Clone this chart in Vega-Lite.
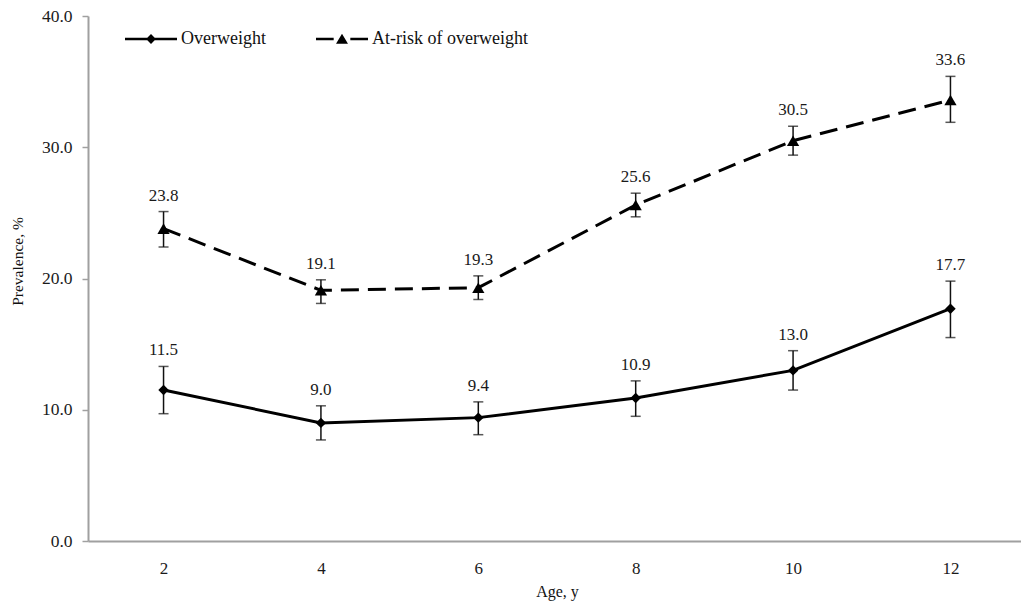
{
  "$schema": "https://vega.github.io/schema/vega-lite/v6.json",
  "width": 938,
  "height": 525,
  "autosize": {"type": "none"},
  "padding": {"left": 88, "top": 16, "right": 0, "bottom": 62},
  "background": "white",
  "config": {"view": {"stroke": null}, "font": "Liberation Serif"},
  "data": {
    "values": [
      {"age": 2, "series": "Overweight", "value": 11.5, "lo": 9.7, "hi": 13.3},
      {"age": 4, "series": "Overweight", "value": 9.0, "lo": 7.7, "hi": 10.3},
      {"age": 6, "series": "Overweight", "value": 9.4, "lo": 8.1, "hi": 10.6},
      {"age": 8, "series": "Overweight", "value": 10.9, "lo": 9.5, "hi": 12.2},
      {"age": 10, "series": "Overweight", "value": 13.0, "lo": 11.5, "hi": 14.5},
      {"age": 12, "series": "Overweight", "value": 17.7, "lo": 15.5, "hi": 19.8},
      {"age": 2, "series": "At-risk of overweight", "value": 23.8, "lo": 22.4, "hi": 25.1},
      {"age": 4, "series": "At-risk of overweight", "value": 19.1, "lo": 18.1, "hi": 19.9},
      {"age": 6, "series": "At-risk of overweight", "value": 19.3, "lo": 18.4, "hi": 20.2},
      {"age": 8, "series": "At-risk of overweight", "value": 25.6, "lo": 24.7, "hi": 26.5},
      {"age": 10, "series": "At-risk of overweight", "value": 30.5, "lo": 29.4, "hi": 31.6},
      {"age": 12, "series": "At-risk of overweight", "value": 33.6, "lo": 31.9, "hi": 35.4}
    ]
  },
  "encoding": {
    "x": {
      "field": "age",
      "type": "ordinal",
      "scale": {"type": "point", "padding": 0.48},
      "axis": {
        "title": "Age, y",
        "titleFont": "Liberation Serif",
        "titleFontSize": 16,
        "titleFontWeight": "normal",
        "titleColor": "#111",
        "titlePadding": 7,
        "labelAngle": 0,
        "labelFont": "Liberation Serif",
        "labelFontSize": 17,
        "labelColor": "#1a1a1a",
        "labelPadding": 19,
        "ticks": false,
        "domainColor": "#a0a0a0",
        "domainWidth": 2,
        "grid": false
      }
    }
  },
  "layer": [
    {
      "transform": [{"filter": "datum.series === 'Overweight'"}],
      "mark": {"type": "line", "color": "black", "strokeWidth": 3},
      "encoding": {
        "y": {
          "field": "value",
          "type": "quantitative",
          "scale": {"domain": [0, 40]},
          "axis": {
            "title": "Prevalence, %",
            "titleFont": "Liberation Serif",
            "titleFontSize": 15.5,
            "titleFontWeight": "normal",
            "titleColor": "#111",
            "titlePadding": 16,
            "titleY": 245,
            "values": [0, 10, 20, 30, 40],
            "format": ".1f",
            "labelFont": "Liberation Serif",
            "labelFontSize": 17.5,
            "labelColor": "#1a1a1a",
            "labelPadding": 10,
            "tickSize": 6,
            "tickWidth": 1.5,
            "tickColor": "#a0a0a0",
            "domainColor": "#a0a0a0",
            "domainWidth": 2,
            "grid": false
          }
        }
      }
    },
    {
      "transform": [{"filter": "datum.series !== 'Overweight'"}],
      "mark": {"type": "line", "color": "black", "strokeWidth": 3, "strokeDash": [18, 9]},
      "encoding": {
        "y": {"field": "value", "type": "quantitative"}
      }
    },
    {
      "mark": {"type": "rule", "color": "#111", "strokeWidth": 1.5},
      "encoding": {
        "y": {"field": "lo", "type": "quantitative"},
        "y2": {"field": "hi"}
      }
    },
    {
      "mark": {"type": "tick", "color": "#111", "size": 10, "thickness": 1.5, "orient": "horizontal"},
      "encoding": {"y": {"field": "lo", "type": "quantitative"}}
    },
    {
      "mark": {"type": "tick", "color": "#111", "size": 10, "thickness": 1.5, "orient": "horizontal"},
      "encoding": {"y": {"field": "hi", "type": "quantitative"}}
    },
    {
      "transform": [{"filter": "datum.series === 'Overweight'"}],
      "mark": {"type": "point", "filled": true, "color": "black", "size": 110, "opacity": 1, "shape": "diamond"},
      "encoding": {
        "y": {"field": "value", "type": "quantitative"}
      }
    },
    {
      "transform": [{"filter": "datum.series !== 'Overweight'"}],
      "mark": {"type": "point", "filled": true, "color": "black", "size": 150, "opacity": 1, "shape": "triangle-up"},
      "encoding": {
        "y": {"field": "value", "type": "quantitative"}
      }
    },
    {
      "mark": {"type": "point", "filled": true, "color": "black", "size": 110, "opacity": 0},
      "encoding": {
        "y": {"field": "value", "type": "quantitative"},
        "shape": {
          "field": "series",
          "type": "nominal",
          "scale": {
            "domain": ["Overweight", "At-risk of overweight"],
            "range": [
              "M-1,-0.05L1,-0.05L1,0.05L-1,0.05Z M0,-0.19L0.19,0L0,0.19L-0.19,0Z",
              "M-1,-0.05L-0.32,-0.05L-0.32,0.05L-1,0.05Z M0.32,-0.05L1,-0.05L1,0.05L0.32,0.05Z M0,-0.2L0.23,0.18L-0.23,0.18Z"
            ]
          },
          "legend": {
            "orient": "none",
            "legendX": 37,
            "legendY": -3,
            "direction": "horizontal",
            "title": null,
            "padding": 0,
            "labelFont": "Liberation Serif",
            "labelFontSize": 18,
            "labelColor": "#111",
            "labelOffset": 4,
            "symbolSize": 2704,
            "columnPadding": 50,
            "symbolFillColor": "black",
            "symbolStrokeColor": "black",
            "symbolStrokeWidth": 0,
            "symbolOpacity": 1,
            "encode": {
              "symbols": {
                "update": {
                  "opacity": {"value": 1},
                  "fill": {"value": "black"},
                  "size": {"value": 2704}
                }
              }
            }
          }
        }
      }
    },
    {
      "mark": {"type": "text", "dy": -16, "fontSize": 17, "font": "Liberation Serif", "color": "#1a1a1a", "baseline": "middle"},
      "encoding": {
        "y": {"field": "hi", "type": "quantitative"},
        "text": {"field": "value", "type": "quantitative", "format": ".1f"}
      }
    }
  ]
}
